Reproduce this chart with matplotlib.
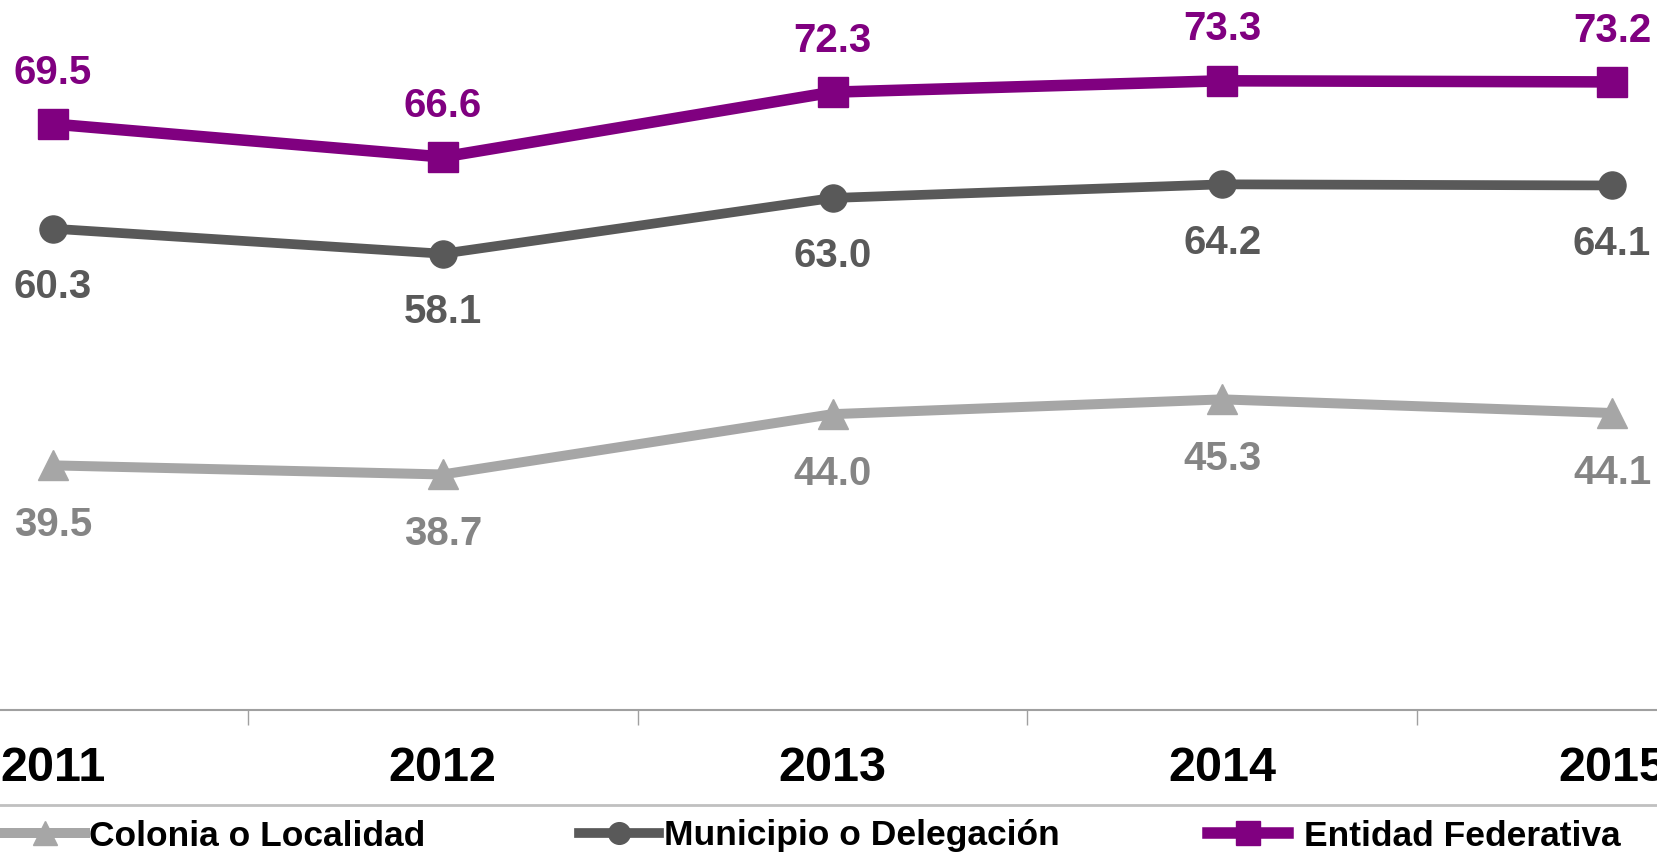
import numpy as np
import matplotlib
matplotlib.use("Agg")
import matplotlib.pyplot as plt
from matplotlib.lines import Line2D

plt.rcParams['font.family'] = ['Liberation Sans', 'DejaVu Sans']

years = ['2011', '2012', '2013', '2014', '2015']
colonia = [39.5, 38.7, 44.0, 45.3, 44.1]
municipio = [60.3, 58.1, 63.0, 64.2, 64.1]
entidad = [69.5, 66.6, 72.3, 73.3, 73.2]

c_col = '#a6a6a6'
c_col_txt = '#858585'
c_mun = '#595959'
c_ent = '#800080'

W, H = 1657, 864
fig = plt.figure(figsize=(W / 100, H / 100), dpi=100)
# plot area is wider than the picture (crop of a bigger chart)
left_px, right_px, axis_px = -142, 1807, 710
ax = fig.add_axes([left_px / W, (H - axis_px) / H, (right_px - left_px) / W, axis_px / H])

x = np.arange(len(years))
l1, = ax.plot(x, colonia, color=c_col, lw=7.2, marker='^', ms=22, label='Colonia o Localidad')
l2, = ax.plot(x, municipio, color=c_mun, lw=7.0, marker='o', ms=19.5, label='Municipio o Delegación')
l3, = ax.plot(x, entidad, color=c_ent, lw=8.3, marker='s', ms=21, label='Entidad Federativa')

ax.set_xlim(-0.5, len(years) - 0.5)
ax.set_ylim(18, 80.4)

for xi, v in zip(x, entidad):
    ax.annotate(f'{v:.1f}', (xi, v), xytext=(0, 37), textcoords='offset points',
                ha='center', va='center', fontsize=29, fontweight='bold', color=c_ent)
for xi, v in zip(x, municipio):
    ax.annotate(f'{v:.1f}', (xi, v), xytext=(0, -42), textcoords='offset points',
                ha='center', va='center', fontsize=29, fontweight='bold', color=c_mun)
for xi, v in zip(x, colonia):
    ax.annotate(f'{v:.1f}', (xi, v), xytext=(0, -43), textcoords='offset points',
                ha='center', va='center', fontsize=29, fontweight='bold', color=c_col_txt)

ax.set_yticks([])
for s in ['top', 'right', 'left']:
    ax.spines[s].set_visible(False)
ax.spines['bottom'].set_color('#a0a0a0')
ax.spines['bottom'].set_linewidth(1.5)

ax.set_xticks(np.arange(0.5, len(years) - 0.5, 1.0))
ax.set_xticklabels([])
ax.tick_params(axis='x', which='major', length=11, width=1, color='#a0a0a0')
ax.set_xticks(x, minor=True)
ax.set_xticklabels(years, minor=True, fontsize=35, fontweight='bold')
ax.tick_params(axis='x', which='minor', length=0, pad=26)

fig.add_artist(Line2D([0, 1], [(H - 805) / H, (H - 805) / H], color='#c0c0c0', lw=2,
                      transform=fig.transFigure))

# one legend box per entry, placed like the original
leg_x = [5, 579, 1208]
leg_pad = [0.12, 0.15, 0.45]
for line, lx, pad in zip([l1, l2, l3], leg_x, leg_pad):
    lg = fig.legend(handles=[line], loc='center left', bbox_to_anchor=(lx / W, (H - 836) / H),
                    frameon=False, prop={'size': 25.5, 'weight': 'bold'},
                    handlelength=2.25, handletextpad=pad, borderpad=0, borderaxespad=0,
                    markerscale=0.8)

fig.savefig('out.png', dpi=100)
